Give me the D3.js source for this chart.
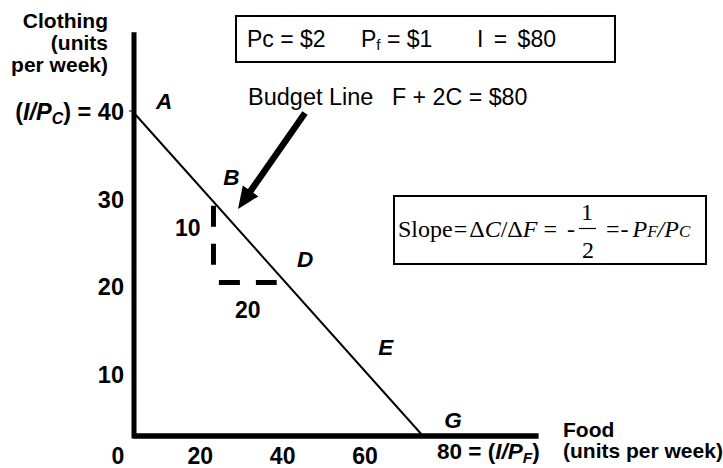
<!DOCTYPE html>
<html><head><meta charset="utf-8">
<script src="https://cdn.jsdelivr.net/npm/d3@7"></script>
<style>
body{margin:0;background:#fff}
svg{display:block}
text{font-family:"Liberation Sans",Arial,sans-serif;fill:#000}
.serif{font-family:"Liberation Serif","Times New Roman",serif}
</style></head><body>
<svg id="c" width="723" height="468"></svg>
<script>
// ---- data ----
const foodTicks = [0, 20, 40, 60];
const clothingTicks = [10, 20, 30, 40];
const budgetFood = [0, 80];
const budgetClothing = [40, 0];
const pointNames = ["A", "B", "D", "E", "G"];
const pointFood = [0, 20, 40, 60, 80];
const pointClothing = [40, 30, 20, 10, 0];
const priceText = ["Pc = $2", "P", "f", " = $1", "I = $80"];
const deltaC = 10, deltaF = 20;

// ---- layout (label offsets in px) ----
const labelDx = [30, 25, 26.5, 35, 30];
const labelDy = [-4, -9, -7.5, 0, -8];

const svg = d3.select("#c");

// scales for the plotted budget line / axes
const x = d3.scaleLinear().domain([0, 80]).range([134, 423]);
const y = d3.scaleLinear().domain([0, 40]).range([436, 113]);
// scales for the (schematic) tick labels
const xt = d3.scaleLinear().domain([0, 60]).range([118, 365]);
const yt = d3.scaleLinear().domain([10, 40]).range([375, 112]);

// axes
svg.append("line").attr("x1", x(0)).attr("x2", x(0)).attr("y1", y(50)).attr("y2", y(0) + 2.5)
  .attr("stroke", "#000").attr("stroke-width", 5);
svg.append("line").attr("x1", x(0) - 0.5).attr("x2", x(112)).attr("y1", y(0)).attr("y2", y(0))
  .attr("stroke", "#000").attr("stroke-width", 5.5);
svg.append("line").attr("x1", x(0) - 5).attr("x2", x(0)).attr("y1", y(40) - 2).attr("y2", y(40) - 2)
  .attr("stroke", "#000").attr("stroke-width", 1);

// budget line
const pts = budgetFood.map((f, i) => [x(f), y(budgetClothing[i])]);
svg.append("path").attr("d", d3.line()(pts)).attr("stroke", "#000").attr("stroke-width", 2).attr("fill", "none");

// y tick labels
const yl = svg.selectAll(".ytl").data(clothingTicks).enter().append("text")
  .attr("class", "ytl").attr("x", 124).attr("y", d => yt(d) + 8)
  .attr("text-anchor", "end").attr("font-weight", "bold").attr("font-size", 23.5);
yl.each(function(d) {
  const t = d3.select(this);
  if (d === 40) {
    t.append("tspan").text("(");
    t.append("tspan").attr("font-style", "italic").text("I/P");
    t.append("tspan").attr("font-style", "italic").attr("font-size", 16).attr("dy", 4).text("C");
    t.append("tspan").attr("dy", -4).text(") = " + d);
  } else t.text(d);
});

// x tick labels
svg.selectAll(".xtl").data(foodTicks).enter().append("text")
  .attr("x", d => xt(d)).attr("y", 464).attr("text-anchor", "middle")
  .attr("font-weight", "bold").attr("font-size", 23).text(d => d);
const x80 = svg.append("text").attr("x", 437).attr("y", 459).attr("font-weight", "bold").attr("font-size", 22.5);
x80.append("tspan").text("80 = (");
x80.append("tspan").attr("font-style", "italic").text("I/P");
x80.append("tspan").attr("font-style", "italic").attr("font-size", 15.5).attr("dy", 4).text("F");
x80.append("tspan").attr("dy", -4).text(")");

// axis titles
const yTitle = ["Clothing", "(units", "per week)"];
svg.selectAll(".ytt").data(yTitle).enter().append("text")
  .attr("x", 108).attr("y", (d, i) => 28 + i * 22).attr("text-anchor", "end")
  .attr("font-weight", "bold").attr("font-size", 21).text(d => d);
const xTitle = ["Food", "(units per week)"];
svg.selectAll(".xtt").data(xTitle).enter().append("text")
  .attr("x", 563).attr("y", (d, i) => 437 + i * 21)
  .attr("font-weight", "bold").attr("font-size", 21).text(d => d);

// point labels
svg.selectAll(".pl").data(pointNames).enter().append("text")
  .attr("x", (d, i) => x(pointFood[i]) + labelDx[i]).attr("y", (d, i) => y(pointClothing[i]) + labelDy[i])
  .attr("text-anchor", "middle").attr("font-weight", "bold").attr("font-style", "italic")
  .attr("font-size", 22.5).text(d => d);

// slope triangle (dashed)
const riseF = 22, riseTop = 28.5, runC = 19, runLeft = 23.5;
svg.append("line").attr("x1", x(riseF)).attr("x2", x(riseF))
  .attr("y1", y(riseTop)).attr("y2", y(riseTop - deltaC + 2.6))
  .attr("stroke", "#000").attr("stroke-width", 5).attr("stroke-dasharray", "21,17");
svg.append("line").attr("x1", x(runLeft)).attr("x2", x(runLeft + deltaF - 4))
  .attr("y1", y(runC)).attr("y2", y(runC))
  .attr("stroke", "#000").attr("stroke-width", 5).attr("stroke-dasharray", "21,16");
svg.append("text").attr("x", x(riseF) - 13).attr("y", y(riseTop - deltaC / 2 + 1.3))
  .attr("text-anchor", "end").attr("font-weight", "bold").attr("font-size", 23).text(deltaC);
svg.append("text").attr("x", x(runLeft + deltaF / 2 - 2)).attr("y", y(runC) + 35)
  .attr("text-anchor", "middle").attr("font-weight", "bold").attr("font-size", 23).text(deltaF);

// arrow
const a0 = [305, 113], a1 = [238, 209];
const dx = a1[0] - a0[0], dy = a1[1] - a0[1], L = Math.hypot(dx, dy);
const ux = dx / L, uy = dy / L, hl = 22, hw = 9.5;
svg.append("line").attr("x1", a0[0]).attr("y1", a0[1])
  .attr("x2", a1[0] - ux * (hl - 2)).attr("y2", a1[1] - uy * (hl - 2))
  .attr("stroke", "#000").attr("stroke-width", 6.5);
const bx = a1[0] - ux * hl, by = a1[1] - uy * hl;
svg.append("path").attr("d", `M${a1[0]},${a1[1]}L${bx - uy * hw},${by + ux * hw}L${bx + uy * hw},${by - ux * hw}Z`)
  .attr("fill", "#000");

// budget label
svg.append("text").attr("x", 248).attr("y", 105).attr("font-size", 23.5).text("Budget Line");
svg.append("text").attr("x", 392).attr("y", 105).attr("font-size", 23.2).text("F + 2C = $80");

// price box
svg.append("rect").attr("x", 236).attr("y", 16).attr("width", 379).attr("height", 46)
  .attr("fill", "none").attr("stroke", "#000").attr("stroke-width", 2);
svg.append("text").attr("x", 247).attr("y", 47).attr("font-size", 23).text(priceText[0]);
const pf = svg.append("text").attr("x", 361).attr("y", 47).attr("font-size", 23);
pf.append("tspan").text(priceText[1]);
pf.append("tspan").attr("font-size", 15).attr("dy", 3).text(priceText[2]);
pf.append("tspan").attr("dy", -3).text(priceText[3]);
svg.append("text").attr("x", 477).attr("y", 47).attr("font-size", 23).attr("word-spacing", 4).text(priceText[4]);

// slope box
svg.append("rect").attr("x", 394).attr("y", 196).attr("width", 312).attr("height", 68)
  .attr("fill", "none").attr("stroke", "#000").attr("stroke-width", 2);
const s1 = svg.append("text").attr("class", "serif").attr("x", 398).attr("y", 237).attr("font-size", 24);
s1.append("tspan").text("Slope");
s1.append("tspan").attr("dx", 1).text("=");
s1.append("tspan").attr("dx", 2).text("Δ");
s1.append("tspan").attr("font-style", "italic").text("C");
s1.append("tspan").text("/Δ");
s1.append("tspan").attr("font-style", "italic").text("F");
s1.append("tspan").attr("dx", 6).text("=");
s1.append("tspan").attr("dx", 10).text("-");
svg.append("text").attr("class", "serif").attr("x", 587).attr("y", 220).attr("font-size", 24)
  .attr("text-anchor", "middle").text("1");
svg.append("line").attr("x1", 579).attr("x2", 596).attr("y1", 228.5).attr("y2", 228.5).attr("stroke", "#000").attr("stroke-width", 1.2);
svg.append("text").attr("class", "serif").attr("x", 588).attr("y", 258).attr("font-size", 24)
  .attr("text-anchor", "middle").text("2");
const s2 = svg.append("text").attr("class", "serif").attr("x", 606).attr("y", 237).attr("font-size", 24);
s2.append("tspan").text("=");
s2.append("tspan").attr("dx", 1).text("-");
s2.append("tspan").attr("dx", 4).attr("font-style", "italic").text("P");
s2.append("tspan").attr("font-style", "italic").attr("font-size", 17).text("F");
s2.append("tspan").attr("font-style", "italic").text("/P");
s2.append("tspan").attr("font-style", "italic").attr("font-size", 17).text("C");
</script></body></html>
